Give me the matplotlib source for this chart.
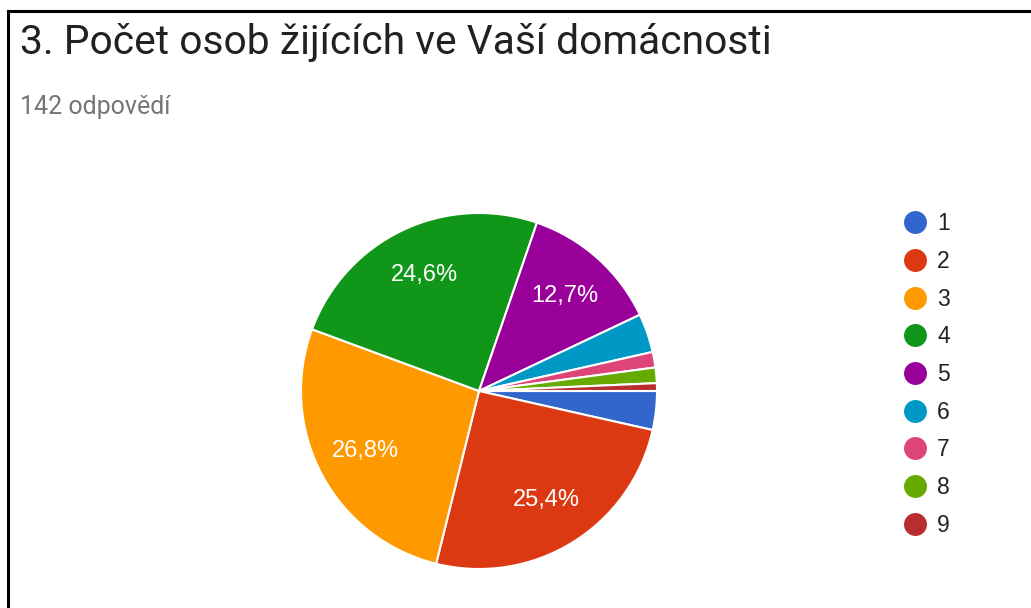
import matplotlib.pyplot as plt
from matplotlib.lines import Line2D

# odpovědi na otázku 3 (celkem 142)
labels = ["1", "2", "3", "4", "5", "6", "7", "8", "9"]
counts = [5, 36, 38, 35, 18, 5, 2, 2, 1]
colors = ["#3366CC", "#DC3912", "#FF9900", "#109618", "#990099",
          "#0099C6", "#DD4477", "#66AA00", "#B82E2E"]

title = "3. Počet osob žijících ve Vaší domácnosti"
subtitle = "142 odpovědí"

W, H = 1031, 608
fig = plt.figure(figsize=(W / 100, H / 100), dpi=100)
fig.patch.set_facecolor("white")

# rámeček vlevo a nahoře
fig.add_artist(Line2D([8 / W, 8 / W], [0, 1 - 11 / H], color="black", lw=2.2))
fig.add_artist(Line2D([8 / W, 1], [1 - 11 / H, 1 - 11 / H], color="black", lw=2.2))

fig.text(20 / W, 1 - 54 / H, title, fontsize=29.3, family="Roboto",
         color="#212121", va="baseline")
fig.text(20 / W, 1 - 114 / H, subtitle, fontsize=18, family="Roboto",
         color="#757575", va="baseline")

# koláč
cx, cy, r = 479, 391, 178
ax = fig.add_axes([(cx - r) / W, (H - cy - r) / H, 2 * r / W, 2 * r / H])


def pct(p):
    return ("%.1f%%" % p).replace(".", ",") if p > 5 else ""


wedges, texts, autotexts = ax.pie(
    counts, colors=colors, startangle=0, counterclock=False,
    autopct=pct, pctdistance=0.72,
    wedgeprops=dict(edgecolor="white", linewidth=1.5),
    textprops=dict(color="white", fontsize=17, family="Liberation Sans"))
ax.set_xlim(-1, 1)
ax.set_ylim(-1, 1)
ax.set_aspect("equal")

handles = [Line2D([], [], marker="o", ls="", markersize=15.5,
                  markerfacecolor=c, markeredgecolor=c) for c in colors]
leg = fig.legend(handles, labels, loc="upper left",
                 bbox_to_anchor=(889 / W, 1 - 201 / H), frameon=False,
                 prop=dict(family="Liberation Sans", size=16.5),
                 labelspacing=0.64, handletextpad=0.3, handlelength=1.3,
                 borderpad=0)
for t in leg.get_texts():
    t.set_color("#222222")

fig.savefig("out.png", dpi=100)
